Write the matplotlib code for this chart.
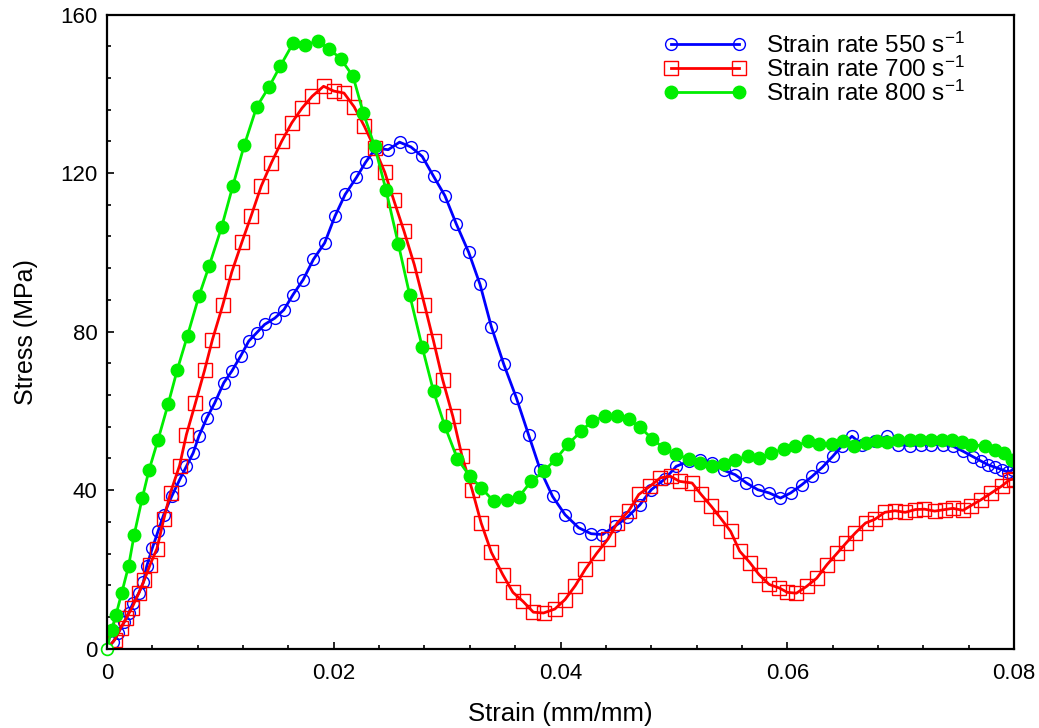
import numpy as np
import matplotlib
matplotlib.use("Agg")
import matplotlib.pyplot as plt

plt.rcParams["font.family"] = ["Liberation Sans", "DejaVu Sans"]
plt.rcParams["mathtext.default"] = "regular"

# strain (mm/mm) / stress (MPa)
strain_550 = [0.0, 0.00056, 0.0010, 0.0015, 0.0019, 0.0023, 0.0028, 0.0032, 0.0035, 0.0040,
              0.0045, 0.0050, 0.0057, 0.0064, 0.0070, 0.0076, 0.0081, 0.0088, 0.0095, 0.0103,
              0.0110, 0.0118, 0.0125, 0.0132, 0.0139, 0.0148, 0.0156, 0.0164, 0.0173, 0.0182,
              0.0192, 0.0201, 0.0210, 0.0220, 0.0228, 0.0237, 0.0248, 0.0258, 0.0268, 0.0278,
              0.0288, 0.0298, 0.0308, 0.0319, 0.0329, 0.0339, 0.0350, 0.0361, 0.0372, 0.0382,
              0.0393, 0.0404, 0.0416, 0.0427, 0.0437, 0.0448, 0.0459, 0.0470, 0.0480, 0.0492,
              0.0502, 0.0513, 0.0523, 0.0534, 0.0544, 0.0554, 0.0564, 0.0574, 0.0584, 0.0594,
              0.0603, 0.0613, 0.0622, 0.0631, 0.0640, 0.0648, 0.0657, 0.0666, 0.0677, 0.0688,
              0.0698, 0.0708, 0.0718, 0.0727, 0.0737, 0.0746, 0.0755, 0.0764, 0.0771, 0.0777,
              0.0783, 0.0789, 0.0795, 0.0799]
stress_550 = [0.0, 1.8, 4.0, 6.6, 9.0, 11.5, 14.0, 16.7, 20.8, 25.4,
              29.6, 33.8, 38.4, 42.6, 46.0, 49.4, 53.6, 58.2, 62.0, 67.1,
              70.0, 73.9, 77.6, 79.7, 81.8, 83.4, 85.5, 89.3, 93.1, 98.2,
              102.4, 109.1, 114.6, 118.9, 122.7, 126.3, 125.9, 127.8, 126.6, 124.2,
              119.2, 114.3, 107.2, 100.0, 91.9, 81.2, 71.7, 63.3, 53.8, 45.2,
              38.4, 33.8, 30.5, 29.0, 28.8, 30.9, 33.2, 36.3, 40.1, 42.8,
              46.0, 47.3, 47.7, 46.9, 45.0, 43.9, 41.8, 40.1, 39.3, 38.0,
              39.3, 41.4, 43.5, 45.8, 48.5, 51.1, 53.6, 51.5, 52.3, 53.6,
              51.5, 51.2, 51.5, 51.5, 51.5, 51.1, 49.8, 48.4, 47.3, 46.4,
              45.8, 45.2, 44.5, 45.2]

strain_700 = [0.0, 0.0007, 0.0012, 0.0017, 0.0022, 0.0028, 0.0033, 0.0038, 0.0044, 0.0050,
              0.0056, 0.0064, 0.0070, 0.0078, 0.0086, 0.0093, 0.0102, 0.0110, 0.0119, 0.0127,
              0.0136, 0.0145, 0.0154, 0.0163, 0.0172, 0.0181, 0.0191, 0.0200, 0.0209, 0.0218,
              0.0227, 0.0236, 0.0245, 0.0253, 0.0262, 0.0271, 0.0280, 0.0288, 0.0296, 0.0305,
              0.0313, 0.0322, 0.0330, 0.0339, 0.0349, 0.0358, 0.0367, 0.0376, 0.0385, 0.0395,
              0.0404, 0.0413, 0.0422, 0.0432, 0.0442, 0.0450, 0.0460, 0.0469, 0.0479, 0.0488,
              0.0497, 0.0505, 0.0516, 0.0524, 0.0533, 0.0541, 0.0550, 0.0558, 0.0567, 0.0575,
              0.0584, 0.0593, 0.0600, 0.0608, 0.0617, 0.0626, 0.0635, 0.0644, 0.0652, 0.0660,
              0.0669, 0.0677, 0.0686, 0.0695, 0.0704, 0.0713, 0.0721, 0.0730, 0.0739, 0.0746,
              0.0755, 0.0762, 0.0771, 0.0780, 0.0789, 0.0796, 0.0800]
stress_700 = [0.0, 2.3, 5.2, 7.7, 10.3, 14.0, 17.4, 21.2, 25.2, 32.6,
              39.4, 46.2, 54.0, 62.0, 70.2, 78.0, 86.6, 95.0, 102.6, 109.1,
              116.7, 122.6, 128.0, 132.7, 136.4, 139.4, 141.9, 140.7, 140.2, 136.7,
              131.8, 126.3, 120.2, 113.1, 105.3, 96.9, 86.8, 77.6, 67.9, 58.6,
              48.7, 40.1, 31.7, 24.3, 18.7, 14.2, 11.9, 9.2, 9.0, 10.0,
              12.4, 15.9, 20.1, 24.1, 27.7, 31.7, 34.7, 38.9, 41.0, 43.1,
              43.5, 42.2, 41.8, 38.9, 35.9, 33.0, 29.6, 24.6, 21.7, 18.7,
              16.2, 15.3, 14.2, 14.0, 15.7, 17.8, 21.2, 24.1, 26.7, 29.2,
              31.7, 32.6, 34.4, 34.8, 34.4, 35.1, 35.2, 34.7, 35.1, 35.4,
              34.9, 36.1, 37.6, 39.3, 41.0, 42.6, 42.8]

strain_800 = [0.0, 0.00041, 0.0008, 0.0013, 0.0019, 0.0024, 0.0031, 0.0037, 0.0045, 0.0054,
              0.0062, 0.0071, 0.0081, 0.0090, 0.0101, 0.0111, 0.0121, 0.0132, 0.0143, 0.0153,
              0.0164, 0.0175, 0.0186, 0.0196, 0.0206, 0.0217, 0.0226, 0.0236, 0.0246, 0.0257,
              0.0267, 0.0278, 0.0288, 0.0298, 0.0309, 0.0320, 0.0330, 0.0341, 0.0353, 0.0363,
              0.0374, 0.0385, 0.0396, 0.0407, 0.0418, 0.0428, 0.0439, 0.0450, 0.0460, 0.0470,
              0.0481, 0.0491, 0.0502, 0.0513, 0.0523, 0.0534, 0.0544, 0.0554, 0.0565, 0.0575,
              0.0586, 0.0597, 0.0607, 0.0618, 0.0628, 0.0639, 0.0649, 0.0659, 0.0669, 0.0679,
              0.0688, 0.0698, 0.0708, 0.0717, 0.0727, 0.0736, 0.0745, 0.0754, 0.0762, 0.0774,
              0.0783, 0.0791, 0.0798]
stress_800 = [0.0, 4.8, 8.6, 14.1, 20.8, 28.8, 37.9, 45.0, 52.7, 61.8,
              70.4, 79.0, 88.9, 96.5, 106.3, 116.8, 127.0, 136.7, 141.8, 147.1,
              152.7, 152.4, 153.3, 151.3, 148.9, 144.4, 135.2, 126.8, 115.8, 102.0,
              89.2, 76.1, 64.9, 56.1, 47.9, 43.5, 40.6, 37.2, 37.6, 38.2,
              42.2, 44.7, 47.9, 51.7, 54.8, 57.5, 58.6, 58.6, 57.9, 55.9,
              52.9, 50.6, 49.0, 47.9, 46.9, 46.0, 46.7, 47.7, 48.5, 48.1,
              49.4, 50.4, 51.1, 52.3, 51.7, 51.7, 52.3, 51.2, 51.9, 52.3,
              52.1, 52.7, 52.7, 52.7, 52.6, 52.6, 52.7, 52.1, 51.5, 51.1,
              50.2, 49.4, 47.7]

labels = ["Strain rate 550 s$^{-1}$", "Strain rate 700 s$^{-1}$", "Strain rate 800 s$^{-1}$"]

fig = plt.figure(figsize=(10.39, 7.28), dpi=100)
ax = fig.add_axes([0.103, 0.109, 0.873, 0.871])

ax.plot(strain_550, stress_550, color="#0000ff", lw=2, marker="o", ms=8.5,
        mfc="none", mec="#0000ff", mew=1.0, markevery=slice(1, None), label=labels[0])
ax.plot(strain_700, stress_700, color="#ff0000", lw=2, marker="s", ms=9.5,
        mfc="none", mec="#ff0000", mew=1.0, markevery=slice(1, None), label=labels[1])
ax.plot(strain_800, stress_800, color="#00ee00", lw=2, marker="o", ms=9,
        mfc="#00ee00", mec="#00ee00", markevery=slice(1, None), label=labels[2])
ax.plot(strain_800[:1], stress_800[:1], ls="none", marker="o", ms=8.5,
        mfc="white", mec="#00ee00", mew=1.2, clip_on=False)

ax.set_xlim(0, 0.08)
ax.set_ylim(0, 160)
ax.set_xticks([0, 0.02, 0.04, 0.06, 0.08])
ax.set_xticklabels(["0", "0.02", "0.04", "0.06", "0.08"])
ax.set_yticks([0, 40, 80, 120, 160])
ax.set_xticks(np.arange(0, 0.0801, 0.004), minor=True)
ax.set_yticks(np.arange(0, 161, 8), minor=True)

ax.tick_params(which="both", direction="in", top=False, right=False, width=1.2, labelsize=16)
ax.tick_params(which="major", length=5)
ax.tick_params(which="minor", length=3)
ax.tick_params(axis="x", pad=10)
ax.tick_params(axis="y", pad=7)
for sp in ax.spines.values():
    sp.set_linewidth(1.6)

ax.set_xlabel("Strain (mm/mm)", fontsize=18.5, labelpad=13)
ax.set_ylabel("Stress (MPa)", fontsize=18, labelpad=16)

ax.legend(loc="upper left", frameon=False, fontsize=17.5, numpoints=2, handlelength=3.4,
          labelspacing=-0.04, handletextpad=0.8, borderaxespad=0.0, borderpad=0.0,
          bbox_to_anchor=(0.6135, 0.972))

fig.savefig("out.png", dpi=100)
